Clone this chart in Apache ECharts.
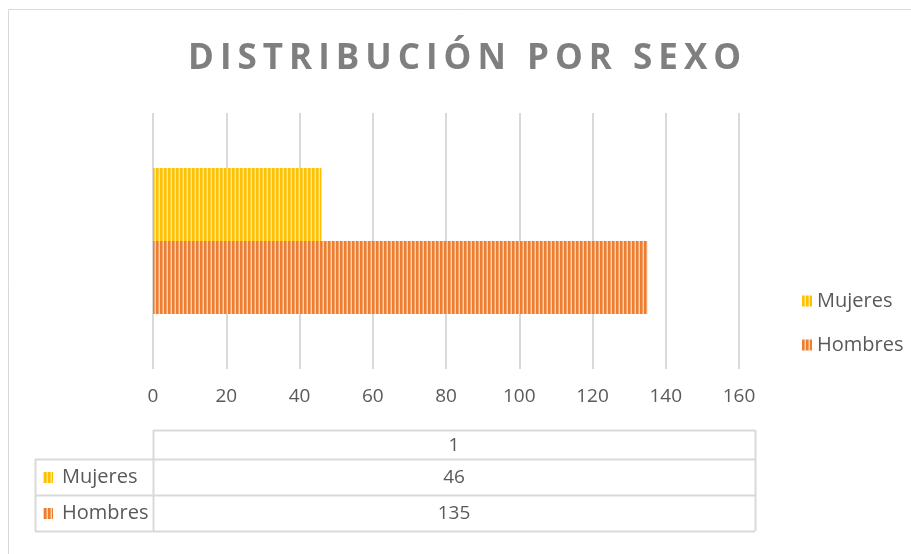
<!DOCTYPE html>
<html>
<head>
<meta charset="utf-8">
<script src="https://cdn.jsdelivr.net/npm/echarts@6/dist/echarts.min.js"></script>
<style>
html,body{margin:0;padding:0;background:#fff;}
#chart{width:911px;height:554px;}
</style>
</head>
<body>
<div id="chart"></div>
<script>
const titleText = 'DISTRIBUCIÓN POR SEXO';
const categories = ['1'];
const seriesNames = ['Mujeres', 'Hombres'];
const mujeres = [46];
const hombres = [135];
const xTicks = [0, 20, 40, 60, 80, 100, 120, 140, 160];

const baseColors = ['#FFC000', '#ED7D31'];
const lightColors = ['#FFE797', '#FAD0B0'];
const midColors = ['#FFD248', '#F3A46C'];

function makePattern(base, mid, light) {
  const c = document.createElement('canvas');
  c.width = 4; c.height = 4;
  const ctx = c.getContext('2d');
  ctx.fillStyle = base; ctx.fillRect(0, 0, 4, 4);
  ctx.fillStyle = mid; ctx.fillRect(2, 0, 1, 4);
  ctx.fillStyle = light; ctx.fillRect(3, 0, 1, 4);
  return { image: c, repeat: 'repeat' };
}
const patterns = baseColors.map((b, i) => makePattern(b, midColors[i], lightColors[i]));
const values = [mujeres, hombres];

const font = '"Open Sans", "Liberation Sans", sans-serif';
const textColor = '#595959';
const gridColor = '#d9d9d9';

// table geometry
const tLeft = 35, tCol = 153, tRight = 755;
const rowY = [430, 459, 495, 531];

const graphics = [];
graphics.push({ type: 'rect', shape: { x: 8.5, y: 9.5, width: 1000, height: 1000 },
  style: { fill: 'none', stroke: gridColor, lineWidth: 1 }, silent: true });
function hline(x1, x2, y) {
  graphics.push({ type: 'line', shape: { x1: x1, y1: y + 0.5, x2: x2, y2: y + 0.5 }, style: { stroke: gridColor, lineWidth: 2 } });
}
function vline(x, y1, y2) {
  graphics.push({ type: 'line', shape: { x1: x + 0.5, y1: y1, x2: x + 0.5, y2: y2 }, style: { stroke: gridColor, lineWidth: 2 } });
}
hline(tCol, tRight, rowY[0]);
hline(tLeft, tRight, rowY[1]);
hline(tLeft, tRight, rowY[2]);
hline(tLeft, tRight, rowY[3]);
vline(tLeft, rowY[1], rowY[3]);
vline(tCol, rowY[0], rowY[3]);
vline(tRight, rowY[0], rowY[3]);
graphics.push({ type: 'text', x: (tCol + tRight) / 2, y: (rowY[0] + rowY[1]) / 2 + 1,
  style: { text: categories[0], font: '19px ' + font, fill: textColor, textAlign: 'center', textVerticalAlign: 'middle' } });
seriesNames.forEach((name, i) => {
  const cy = (rowY[i + 1] + rowY[i + 2]) / 2;
  graphics.push({ type: 'rect', shape: { x: 43, y: cy - 5, width: 10, height: 11 }, style: { fill: patterns[i] } });
  graphics.push({ type: 'text', x: 62, y: cy,
    style: { text: name, font: '20px ' + font, fill: textColor, textAlign: 'left', textVerticalAlign: 'middle' } });
  graphics.push({ type: 'text', x: (tCol + tRight) / 2, y: cy + 1,
    style: { text: String(values[i][0]), font: '19px ' + font, fill: textColor, textAlign: 'center', textVerticalAlign: 'middle' } });
});

const chart = echarts.init(document.getElementById('chart'), null, { renderer: 'canvas' });
chart.setOption({
  animation: false,
  backgroundColor: '#fff',
  title: {
    text: titleText, left: 183, top: 37, zlevel: 1,
    textStyle: { fontFamily: font, fontSize: 35, fontWeight: 'bold', color: '#7f7f7f' }
  },
  legend: {
    data: seriesNames, orient: 'vertical', left: 797, top: 286, itemGap: 24,
    itemWidth: 10, itemHeight: 11, icon: 'rect',
    textStyle: { fontFamily: font, fontSize: 20, color: textColor }
  },
  grid: { left: 153, right: 172, top: 113, bottom: 185, containLabel: false },
  xAxis: {
    type: 'value', min: 0, max: 160, interval: 20,
    axisLine: { show: false }, axisTick: { show: false },
    splitLine: { lineStyle: { color: gridColor, width: 2 } },
    axisLabel: { fontFamily: font, fontSize: 19, color: textColor, margin: 18 }
  },
  yAxis: {
    type: 'category', data: categories, inverse: true,
    axisLine: { show: false }, axisTick: { show: false }, axisLabel: { show: false }
  },
  series: seriesNames.map((name, i) => ({
    name: name, type: 'bar', data: values[i],
    barCategoryGap: '43%', barGap: '0%',
    itemStyle: { color: patterns[i] }
  })),
  graphic: graphics
});
// Excel-style letter-spaced title, drawn on its own canvas layer
try {
  const painter = chart.getZr().painter;
  const layer = painter.getLayer(1);
  if (layer && layer.ctx && 'letterSpacing' in layer.ctx) {
    layer.ctx.letterSpacing = '6px';
    painter.refresh(true);
  }
} catch (e) {}
</script>
</body>
</html>
